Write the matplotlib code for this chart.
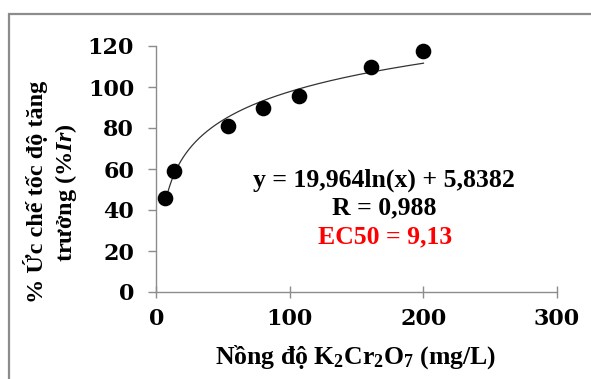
import numpy as np
import matplotlib
matplotlib.use("Agg")
import matplotlib.pyplot as plt
from matplotlib.patches import Rectangle

conc = [6.2, 13.0, 53.3, 79.6, 106.7, 160.6, 200.0]
inhib = [46.0, 59.1, 81.2, 90.0, 95.5, 109.6, 117.7]
slope, intercept = 19.964, 5.8382
eq_text = "y = 19,964ln(x) + 5,8382"
r_text = "R = 0,988"
ec_text = "EC50 = 9,13"
xticks = [0, 100, 200, 300]
yticks = [0, 20, 40, 60, 80, 100, 120]

plt.rcParams['mathtext.fontset'] = 'custom'
plt.rcParams['mathtext.rm'] = 'Liberation Serif:bold'
plt.rcParams['mathtext.it'] = 'Liberation Serif:italic:bold'
plt.rcParams['mathtext.bf'] = 'Liberation Serif:bold'

W, H = 591, 379
fig = plt.figure(figsize=(W/100, H/100), dpi=100)
ax = fig.add_axes([156.4/W, 1-292/H, (557-156.4)/W, (292-46)/H])

# figure border
fig.patches.append(Rectangle((9/W, -0.1), 1.2, 1 - 14/H + 0.1, transform=fig.transFigure,
                             fill=False, edgecolor='#8c8c8c', linewidth=1.6, zorder=0))

xs = np.linspace(min(conc), max(conc), 300)
ax.plot(xs, slope*np.log(xs) + intercept, color='#333333', linewidth=0.9, zorder=2)
ax.scatter(conc, inhib, s=105, color='black', zorder=3, clip_on=False)

ax.set_xlim(0, 300)
ax.set_ylim(0, 120)
ax.set_xticks(xticks)
ax.set_yticks(yticks)
for s in ['top', 'right']:
    ax.spines[s].set_visible(False)
for s in ['left', 'bottom']:
    ax.spines[s].set_color('#8c8c8c')
    ax.spines[s].set_linewidth(1.0)
ax.tick_params(axis='y', direction='out', length=6, width=1.0, color='#8c8c8c', pad=10)
ax.tick_params(axis='x', direction='inout', length=9, width=1.0, color='#8c8c8c', pad=7)
for lab in ax.get_xticklabels() + ax.get_yticklabels():
    lab.set_fontfamily('DejaVu Serif')
    lab.set_fontweight('bold')
    lab.set_fontsize(16)

serif = ['Liberation Serif', 'DejaVu Serif']
fig.text(356/W, 1-357/H, r"Nồng độ K$_2$Cr$_2$O$_7$ (mg/L)", family=serif, weight='bold',
         fontsize=18.5, ha='center', va='center')
fig.text(36/W, 1-192/H, "% Ức chế tốc độ tăng", family=serif, weight='bold',
         fontsize=17.5, ha='center', va='center', rotation=90)
fig.text(66/W, 1-193/H, r"trưởng ($\mathit{\%Ir}$)", family=serif, weight='bold',
         fontsize=17.5, ha='center', va='center', rotation=90)

fig.text(384/W, 1-180/H, eq_text, family=serif, weight='bold', fontsize=18.5,
         ha='center', va='center')
fig.text(384/W, 1-208/H, r_text, family=serif, weight='bold', fontsize=18.5,
         ha='center', va='center')
fig.text(385/W, 1-237/H, ec_text, family=serif, weight='bold', fontsize=18.5,
         ha='center', va='center', color='#ff0000')

fig.savefig('out.png', dpi=100)
